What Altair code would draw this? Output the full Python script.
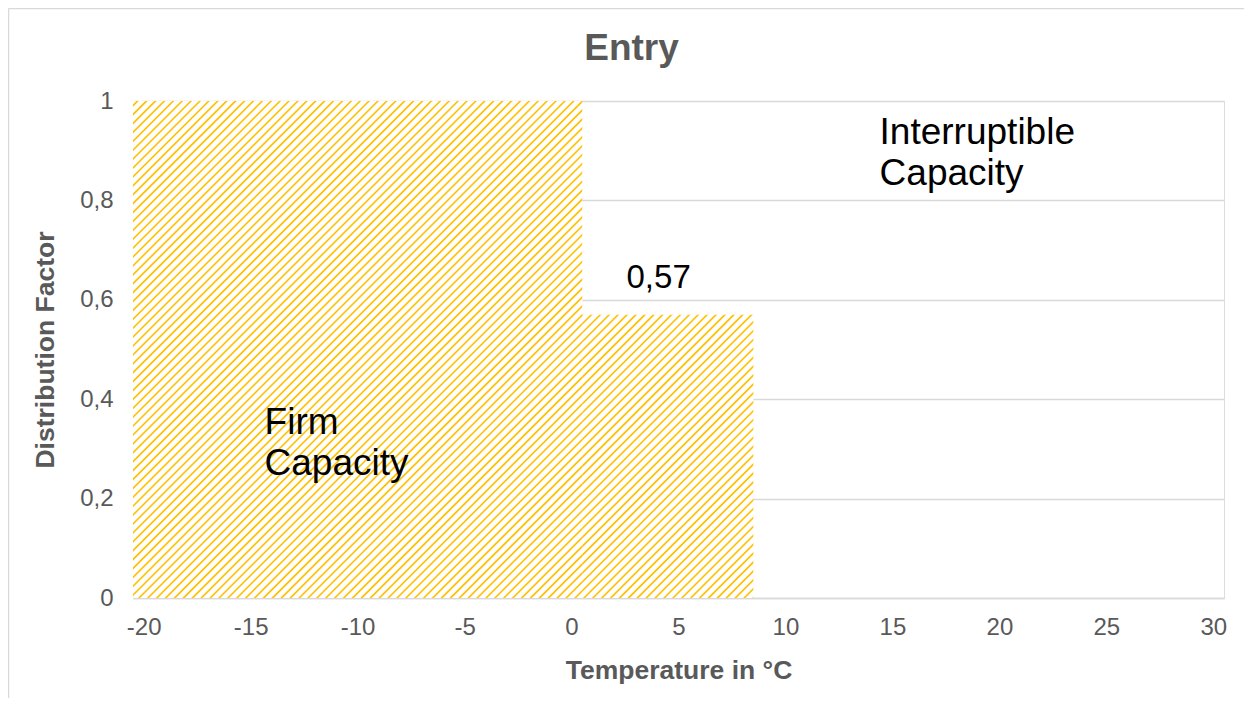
import math
import altair as alt
import pandas as pd

# ---------------- data ----------------
seg_from = [-20, 1]          # first temperature (°C) of each step
seg_to = [0, 8]              # last temperature (°C) of each step
seg_factor = [1.0, 0.57]     # firm distribution factor of each step

x_ticks = [-20, -15, -10, -5, 0, 5, 10, 15, 20, 25, 30]
y_ticks = [0, 0.2, 0.4, 0.6, 0.8, 1.0]

ann_labels = ["Interruptible\nCapacity", "Firm\nCapacity", "0,57"]
ann_x = [14.4, -14.35, 2.57]
ann_y = [0.913, 0.33, 0.624]
ann_size = [37, 37, 33]

# ---------------- layout / style ----------------
W, H = 1091, 497
X_MIN, X_MAX = -20.5, 30.5
FONT = "Liberation Sans"
GREY = "#595959"
GRID = "#D9D9D9"
PX = W / (X_MAX - X_MIN)

seg = pd.DataFrame({"t_lo": seg_from, "t_hi": seg_to, "factor": seg_factor})
ann = pd.DataFrame({"label": ann_labels, "x": ann_x, "y": ann_y, "size": ann_size})


def hatch_gradient(lo, hi, f):
    """Diagonal 'wide upward' hatch imitated with a striped linear gradient."""
    x0 = (lo - 0.5 - X_MIN) * PX
    x1 = (hi + 0.5 - X_MIN) * PX
    top = (1 - f) * H
    w, h = x1 - x0, H - top
    u0, L = x0 + top, w + h
    P = 8.9
    profile = [(0.30, "#ffffff"), (0.38, "#ffe699"), (0.46, "#ffc000"),
               (0.57, "#ffc000"), (0.66, "#ffe699"), (0.74, "#ffffff")]
    stops = [alt.GradientStop(color="#ffffff", offset=0)]
    for k in range(int(math.floor(u0 / P)) - 1, int(math.ceil((u0 + L) / P)) + 1):
        for fr, c in profile:
            o = ((k + fr) * P - u0) / L
            if 0 < o < 1:
                stops.append(alt.GradientStop(color=c, offset=round(o, 5)))
    stops.append(alt.GradientStop(color="#ffffff", offset=1))
    s = (w + h) / (w * w + h * h)
    return alt.LinearGradient(gradient="linear", stops=stops,
                              x1=0, y1=0, x2=w * s, y2=h * s)


xscale = alt.Scale(domain=[X_MIN, X_MAX], nice=False, zero=False)
yscale = alt.Scale(domain=[0, 1], nice=False)

x_axis = alt.Axis(values=x_ticks, grid=False, ticks=False, domain=True,
                  domainColor=GRID, domainWidth=1.5,
                  labelExpr="toString(datum.value)",
                  labelFont=FONT, labelFontSize=24, labelColor=GREY,
                  labelPadding=17, labelFlush=False,
                  title="Temperature in °C", titleFont=FONT, titleFontSize=26.5,
                  titleFontWeight="bold", titleColor=GREY, titlePadding=18)
y_axis = alt.Axis(values=y_ticks, grid=True, gridColor=GRID, gridWidth=1.5,
                  ticks=False, domain=False,
                  labelExpr="replace(format(datum.value, '.1~f'), '.', ',')",
                  labelFont=FONT, labelFontSize=24, labelColor=GREY,
                  labelPadding=20, labelFlush=False,
                  title="Distribution Factor", titleFont=FONT, titleFontSize=26.5,
                  titleFontWeight="bold", titleColor=GREY, titlePadding=20)

layers = []
for i in range(len(seg_from)):
    layers.append(
        alt.Chart(seg)
        .transform_filter(alt.datum.t_lo == seg_from[i])
        .transform_calculate(x0="datum.t_lo - 0.5", x1="datum.t_hi + 0.5")
        .mark_rect(fill=hatch_gradient(seg_from[i], seg_to[i], seg_factor[i]))
        .encode(
            x=alt.X("x0:Q", scale=xscale, axis=x_axis),
            x2="x1:Q",
            y=alt.Y("factor:Q", scale=yscale, axis=y_axis),
            y2=alt.datum(0),
        )
    )

text = (
    alt.Chart(ann)
    .mark_text(font=FONT, color="#000000", align="left", baseline="alphabetic",
               lineBreak="\n", lineHeight=41)
    .encode(
        x=alt.X("x:Q", scale=xscale, axis=x_axis),
        y=alt.Y("y:Q", scale=yscale, axis=y_axis),
        text="label:N",
        size=alt.Size("size:Q", scale=None, legend=None),
    )
)

border_data = alt.Data(values=[{"b": 1}])
border_top = alt.Chart(border_data).mark_rule(color=GRID, strokeWidth=1.5).encode(
    x=alt.value(-124.5), x2=alt.value(1200), y=alt.value(-92.5))
border_left = alt.Chart(border_data).mark_rule(color=GRID, strokeWidth=1.5).encode(
    x=alt.value(-124.5), y=alt.value(-92.5), y2=alt.value(600))

chart = (
    alt.layer(*layers, text, border_top, border_left)
    .properties(
        width=W, height=H,
        title=alt.TitleParams(text="Entry", font=FONT, fontSize=37,
                              fontWeight="bold", color=GREY, anchor="middle",
                              baseline="alphabetic", dx=-47, dy=89, offset=0),
        autosize=alt.AutoSizeParams(type="none"),
        padding={"left": 125, "top": 93, "right": 20, "bottom": 100},
    )
    .configure_view(stroke=None)
    .configure(background="white")
)

chart.save("out.html", embed_options={"renderer": "svg", "actions": False})
